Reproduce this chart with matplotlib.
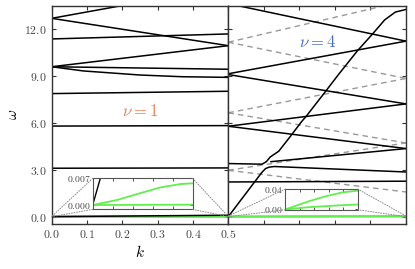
import matplotlib
matplotlib.use("Agg")
import matplotlib.pyplot as plt
from matplotlib.patches import ConnectionPatch
from matplotlib.ticker import FormatStrFormatter

plt.rcParams['mathtext.fontset'] = 'cm'

# --- left panel (nu = 1), k in [0, 0.5] ---
k_ends = [0.0, 0.5]
left_lines = [
    [12.70, 14.75],
    [12.70, 10.95],
    [11.38, 11.70],
    [9.60, 10.95],
    [9.60, 9.44],
    [7.88, 8.03],
    [5.80, 5.83],
    [3.10, 3.12],
]
bend_k = [0.0, 0.09, 0.25, 0.37, 0.5]
bend_w = [9.60, 9.33, 9.07, 8.96, 8.92]
acoustic_w = [0.0, 0.0915]          # black branch near zero (slope ~0.183)

# green branches (tiny values, seen in inset)
g1_k = [0.0, 0.12, 0.237, 0.337, 0.437, 0.5]
g1_w = [0.0, 0.0013, 0.0031, 0.0046, 0.0055, 0.0057]
g2_k = [0.0, 0.25, 0.5]
g2_w = [0.0, 0.00005, 0.0001]

# --- right panel (nu = 4), k in [0.5, 1.0] ---
rk_ends = [0.5, 1.0]
right_lines = [
    [13.64, 11.24],
    [9.15, 11.24],
    [9.10, 7.22],
    [5.79, 7.22],
    [5.79, 4.36],
    [2.22, 2.27],
]
e_k = [0.62, 1.0]
e_w = [3.52, 4.36]
dashed_lines = [
    [11.17, 13.83],
    [11.17, 8.85],
    [6.65, 8.85],
    [6.65, 4.72],
    [2.97, 4.72],
    [2.97, 1.58],
]
low_k = [0.5, 0.595, 0.605, 0.615, 0.63, 1.0]
low_w = [0.0, 2.85, 3.08, 3.17, 3.21, 2.86]
up_k = [0.5, 0.595, 0.607, 0.618, 0.642, 0.675, 0.705, 0.72, 0.774, 0.81,
        0.864, 0.906, 0.94, 0.97, 1.0]
up_w = [3.40, 3.36, 3.52, 3.82, 4.19, 5.15, 6.05, 6.45, 8.03, 9.1,
        10.64, 11.7, 12.6, 13.1, 13.27]

rg1_k = [0.5, 0.663, 0.779, 0.895, 1.0]
rg1_w = [0.0, 0.0161, 0.0258, 0.0335, 0.0368]
rg2_k = [0.5, 0.663, 0.779, 0.895, 1.0]
rg2_w = [0.0, 0.0045, 0.0065, 0.0084, 0.0097]

yticks = [0, 3, 6, 9, 12]
xticks_left = [0.0, 0.1, 0.2, 0.3, 0.4, 0.5]
xticks_right = [0.5, 0.6, 0.7, 0.8, 0.9, 1.0]

green = '#62ee4e'
lw = 1.1
spine_c = '#333333'
label_c = '#444444'

fig = plt.figure(figsize=(4.15, 2.69), dpi=100)
ax1 = fig.add_axes([0.1246, 0.1691, 0.4255, 0.8086])
ax2 = fig.add_axes([0.5501, 0.1691, 0.4282, 0.8086])


def style(ax):
    ax.set_ylim(-0.44, 13.49)
    ax.set_yticks(yticks)
    ax.tick_params(direction='in', top=True, right=True, length=3, width=0.8,
                   color=spine_c, labelcolor=label_c, labelsize=8.5)
    for s in ax.spines.values():
        s.set_linewidth(1.0)
        s.set_color(spine_c)


def style_inset(axi):
    axi.tick_params(direction='in', top=True, right=True, length=2, width=0.6,
                    color=spine_c, labelcolor=label_c, labelsize=7, pad=1.5,
                    labelbottom=False)
    for s in axi.spines.values():
        s.set_linewidth(0.8)
        s.set_color('#555555')


# left panel
ax1.plot(g1_k, g1_w, color=green, lw=1.5, zorder=2)
ax1.plot(g2_k, g2_w, color=green, lw=1.5, zorder=2)
ax1.plot(k_ends, acoustic_w, color='k', lw=lw, zorder=3)
for w in left_lines:
    ax1.plot(k_ends, w, color='k', lw=lw)
ax1.plot(bend_k, bend_w, color='k', lw=lw)
style(ax1)
ax1.set_xlim(0, 0.5)
ax1.set_xticks(xticks_left)
ax1.xaxis.set_major_formatter(FormatStrFormatter('$%.1f$'))
ax1.yaxis.set_major_formatter(FormatStrFormatter('$%.1f$'))
ax1.set_xlabel(r'$k$', fontsize=11, labelpad=2)
ax1.set_ylabel(r'$\omega$', fontsize=11, labelpad=3)
ax1.text(0.25, 6.77, r'$\nu = 1$', color='#f27a4c', fontsize=12,
         ha='center', va='center')

# right panel
for w in dashed_lines:
    ax2.plot(rk_ends, w, color='#999999', lw=1.0, ls=(0, (4, 3)))
for w in right_lines:
    ax2.plot(rk_ends, w, color='k', lw=lw)
ax2.plot(e_k, e_w, color='k', lw=lw)
ax2.plot(low_k, low_w, color='k', lw=lw)
ax2.plot(up_k, up_w, color='k', lw=lw)
ax2.plot(rg1_k, rg1_w, color=green, lw=1.5)
ax2.plot(rg2_k, rg2_w, color=green, lw=1.5)
style(ax2)
ax2.set_xlim(0.5, 1.0)
ax2.set_xticks(xticks_right)
ax2.tick_params(labelleft=False, labelbottom=False)
ax2.text(0.75, 11.2, r'$\nu = 4$', color='#4a6cc6', fontsize=12,
         ha='center', va='center')

# insets
ins1 = ax1.inset_axes([0.232, 0.065, 0.566, 0.1425])
ins1.plot(g1_k, g1_w, color=green, lw=1.3)
ins1.plot(g2_k, g2_w, color=green, lw=1.3)
ins1.plot(k_ends, acoustic_w, color='k', lw=1.0)
ins1.set_xlim(0, 0.5)
ins1.set_ylim(-0.00114, 0.007)
ins1.set_xticks([0.1, 0.2, 0.3, 0.4])
ins1.set_yticks([0.0, 0.007])
ins1.yaxis.set_major_formatter(FormatStrFormatter('$%.3f$'))
style_inset(ins1)

ins2 = ax2.inset_axes([0.321, 0.0634, 0.407, 0.095])
ins2.plot(rg1_k, rg1_w, color=green, lw=1.3)
ins2.plot(rg2_k, rg2_w, color=green, lw=1.3)
ins2.set_xlim(0.5, 1.0)
ins2.set_ylim(-0.0005, 0.04)
ins2.set_xticks([0.6, 0.7, 0.8, 0.9])
ins2.set_yticks([0.0, 0.04])
ins2.yaxis.set_major_formatter(FormatStrFormatter('$%.2f$'))
style_inset(ins2)

# dotted connectors from inset corners to the zoomed region
for ax, ins in [(ax1, ins1), (ax2, ins2)]:
    x0, x1 = ins.get_xlim()
    y0, y1 = ins.get_ylim()
    for xy in [(x0, y0), (x0, y1), (x1, y0), (x1, y1)]:
        con = ConnectionPatch(xyA=xy, coordsA=ins.transData,
                              xyB=xy, coordsB=ax.transData,
                              color='#888888', lw=0.7, ls=':')
        fig.add_artist(con)

fig.savefig('out.png', dpi=100)
